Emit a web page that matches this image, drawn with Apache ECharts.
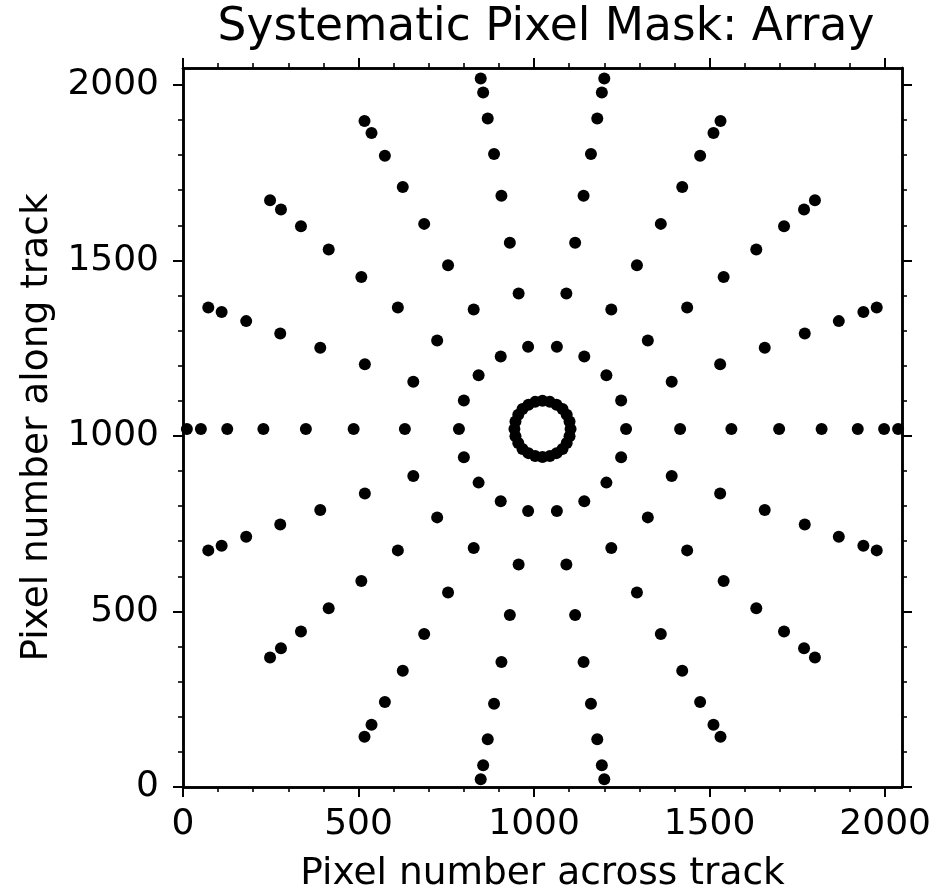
<!DOCTYPE html>
<html>
<head>
<meta charset="utf-8">
<script src="https://cdn.jsdelivr.net/npm/echarts@6/dist/echarts.min.js"></script>
<style>html,body{margin:0;padding:0;background:#fff}#c{width:938px;height:892px}</style>
</head>
<body>
<div id="c"></div>
<script>
// Data: rings of masked pixels (x, y)
// innermost ring is dense (points overlap into a bumpy ring)
const ring1 = [[1104,1020],[1101,1041],[1093,1060],[1081,1077],[1064,1089],[1045,1097],[1024,1100],[1003,1097],[984,1089],[967,1077],[955,1060],[947,1041],[944,1020],[947,999],[955,980],[967,963],[984,951],[1003,943],[1024,940],[1045,943],[1064,951],[1081,963],[1093,980],[1101,999]];
const ring2 = [[1262,1020],[1248,1101],[1206,1173],[1143,1226],[1065,1254],[983,1254],[905,1226],[842,1173],[800,1101],[786,1020],[800,939],[842,867],[905,814],[983,786],[1065,786],[1143,814],[1206,867],[1248,939]];
const ring3 = [[1416,1020],[1392,1154],[1324,1272],[1220,1360],[1092,1406],[956,1406],[828,1360],[724,1272],[656,1154],[632,1020],[656,886],[724,768],[828,681],[956,634],[1092,634],[1220,681],[1324,768],[1392,886]];
const ring4 = [[1562,1020],[1530,1204],[1436,1366],[1293,1486],[1117,1550],[931,1550],[755,1486],[612,1366],[518,1204],[486,1020],[518,836],[612,674],[755,554],[931,490],[1117,490],[1293,554],[1436,674],[1530,836]];
const ring5 = [[1698,1020],[1657,1251],[1540,1453],[1361,1604],[1141,1684],[907,1684],[687,1604],[508,1453],[391,1251],[350,1020],[391,789],[508,587],[687,436],[907,356],[1141,356],[1361,436],[1540,587],[1657,789]];
const ring6 = [[1819,1020],[1771,1292],[1633,1531],[1422,1709],[1162,1803],[886,1803],[626,1709],[415,1531],[277,1292],[229,1020],[277,748],[415,509],[626,331],[886,237],[1162,237],[1422,331],[1633,509],[1771,748]];
const ring7 = [[1922,1020],[1868,1327],[1712,1597],[1473,1798],[1180,1904],[868,1904],[575,1798],[336,1597],[180,1327],[126,1020],[180,713],[336,443],[575,242],[868,136],[1180,136],[1473,242],[1712,443],[1868,713]];
const ring8 = [[1997,1020],[1938,1353],[1769,1645],[1511,1863],[1193,1978],[855,1978],[537,1863],[279,1645],[110,1353],[51,1020],[110,687],[279,395],[537,177],[855,62],[1193,62],[1511,177],[1769,395],[1938,687]];
const ring9 = [[2037,1020],[1976,1366],[1800,1671],[1531,1897],[1200,2018],[848,2018],[517,1897],[248,1671],[72,1366],[11,1020],[72,674],[248,369],[517,143],[848,22],[1200,22],[1531,143],[1800,369],[1976,674]];

const majorTicks = [0, 500, 1000, 1500, 2000];
const minorTicks = [100, 200, 300, 400, 600, 700, 800, 900, 1100, 1200, 1300, 1400, 1600, 1700, 1800, 1900];
const axisMin = 0, axisMax = 2048;

const titleText = 'Systematic Pixel Mask: Array';
const xName = 'Pixel number across track';
const yName = 'Pixel number along track';

const FONT = 'DejaVu Sans';
const rings = [ring1, ring2, ring3, ring4, ring5, ring6, ring7, ring8, ring9];

function makeAxis(kind, position, major, withLabel, name) {
  const ax = {
    type: 'value', min: axisMin, max: axisMax, position: position,
    splitLine: { show: false },
    axisLine: { show: true, onZero: false, lineStyle: { color: '#000', width: 2.5 } },
    axisTick: {
      show: true, inside: false, length: major ? 10 : 5,
      customValues: major ? majorTicks : minorTicks,
      lineStyle: { color: '#000', width: major ? 2 : 1.6 }
    },
    axisLabel: withLabel ? {
      show: true, customValues: majorTicks, color: '#000',
      formatter: v => String(v),
      fontFamily: FONT, fontSize: 36, margin: kind === 'x' ? 20 : 24
    } : { show: false }
  };
  if (name) {
    ax.name = name;
    ax.nameLocation = 'middle';
    ax.nameGap = kind === 'x' ? 68 : 124;
    ax.nameTextStyle = { color: '#000', fontFamily: FONT, fontSize: 37.5 };
  }
  return ax;
}

const chart = echarts.init(document.getElementById('c'), null, { renderer: 'canvas' });
chart.setOption({
  backgroundColor: '#fff',
  animation: false,
  title: {
    text: titleText, left: 541, top: 0, textAlign: 'center',
    textStyle: { color: '#000', fontFamily: FONT, fontSize: 45.5, fontWeight: 'normal' }
  },
  grid: { left: 183, top: 68, width: 719, height: 719, containLabel: false, outerBoundsMode: 'none' },
  xAxis: [
    makeAxis('x', 'bottom', true, true, xName),
    makeAxis('x', 'bottom', false, false),
    makeAxis('x', 'top', true, false),
    makeAxis('x', 'top', false, false)
  ],
  yAxis: [
    makeAxis('y', 'left', true, true, yName),
    makeAxis('y', 'left', false, false),
    makeAxis('y', 'right', true, false),
    makeAxis('y', 'right', false, false)
  ],
  series: rings.map(r => ({
    type: 'scatter', data: r, xAxisIndex: 0, yAxisIndex: 0,
    symbol: 'circle', symbolSize: 12, clip: false,
    itemStyle: { color: '#000', opacity: 1 }
  }))
});
</script>
</body>
</html>
